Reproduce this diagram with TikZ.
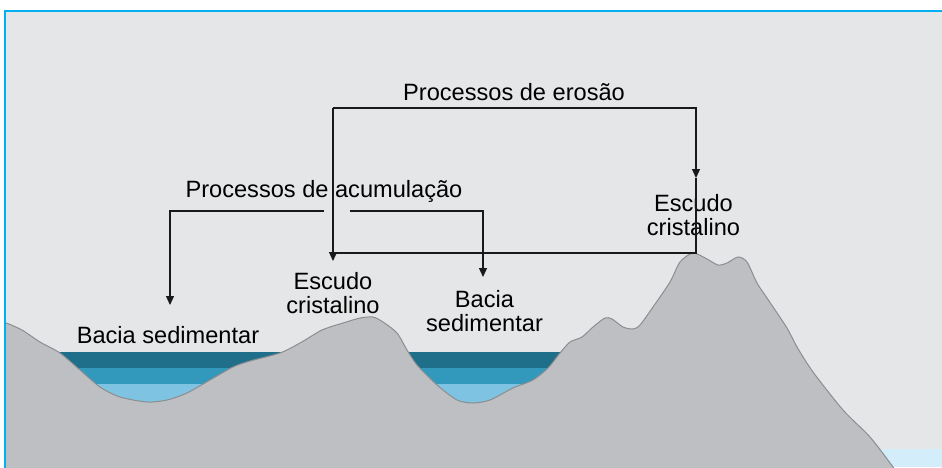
\documentclass[tikz,border=0pt]{standalone}
\usepackage{fontspec}
\setmainfont{Liberation Sans}
\usetikzlibrary{arrows.meta}

\definecolor{frameblue}{HTML}{00B0F0}
\definecolor{skygray}{HTML}{E5E6E8}
\definecolor{rock}{HTML}{BEBFC2}
\definecolor{rockedge}{HTML}{8C8D90}
\definecolor{sedA}{HTML}{1F6F8B}
\definecolor{sedB}{HTML}{3399BC}
\definecolor{sedC}{HTML}{7EC4E2}
\definecolor{sea}{HTML}{D3EEFA}

\begin{document}
\begin{tikzpicture}[x=1pt,y=-1pt,
  lbl/.style={font=\fontsize{23.6}{23.5}\selectfont, inner sep=0pt, align=center, text=black},
  flow/.style={line width=1.3pt, draw=black!90},
  flowarrow/.style={flow, -{Triangle[width=8pt,length=9pt]}}]

\useasboundingbox (0,0) rectangle (942,467);
\fill[white] (0,0) rectangle (942,467);

\begin{scope}
  \clip (5,11) rectangle (942,467);
  \fill[skygray] (5,11) rectangle (942,467);
  % sea at the foot of the right slope
  \fill[sea] (860,449) rectangle (942,467);
  % sediment layers in the two basins
  \fill[sedA] (10,352) rectangle (300,368);
  \fill[sedB] (10,368) rectangle (300,384);
  \fill[sedC] (10,384) rectangle (300,412);
  \fill[sedA] (395,352) rectangle (575,368);
  \fill[sedB] (395,368) rectangle (575,384);
  \fill[sedC] (395,384) rectangle (575,412);
  % relief profile
  \filldraw[fill=rock, draw=rockedge, line width=1pt]
    plot[smooth, tension=0.45] coordinates {
      (-5,322) (6,323) (22,330) (40,342) (60,353) (80,370) (100,387)
      (120,397) (147,402) (167,400) (187,393) (210,380) (233,367)
      (250,361) (280,353) (300,343) (320,331) (330,327) (343,323)
      (360,318) (373,317) (383,322) (397,333) (407,350) (417,365)
      (437,385) (457,400) (473,403) (490,400) (513,388) (533,380)
      (548,368) (560,353) (570,342) (582,337) (593,327) (605,318)
      (612,319) (623,327) (633,329) (640,325) (653,307) (670,282)
      (680,262) (693,253) (707,259) (718,265) (727,263) (738,257)
      (747,262) (757,283) (767,298) (787,328) (797,347) (813,372)
      (843,410) (870,437) (893,467) (900,478)}
    -- (900,490) -- (-5,490) -- cycle;
\end{scope}

% frame edges
\draw[frameblue, line width=1.6pt] (943,11) -- (5,11) -- (5,468);

% labels
\node[lbl, anchor=base] (erosao) at (514,100) {Processos de erosão};
\node[lbl, anchor=base] (acum) at (324,197) {Processos de acumulação};
\node[lbl, anchor=base] (baciaL) at (168,343) {Bacia sedimentar};
\node[lbl, anchor=north] (escM) at (333,272.5) {Escudo\\cristalino};
\node[lbl, anchor=north] (baciaM) at (484.5,290.5) {Bacia\\sedimentar};
\node[lbl, anchor=north] (escR) at (693.5,194.5) {Escudo\\cristalino};

% erosion loop
\coordinate (eroL) at (333,108);
\coordinate (eroR) at (696,108);
\coordinate (eroTipL) at (333,261);
\coordinate (eroTipR) at (696,178);
\coordinate (summit) at (696,253);
\coordinate (eroBase) at (333,253);
\draw[flowarrow] (eroL) -- (eroTipL);
\draw[flowarrow] (eroL) -- (eroR) -- (eroTipR);
\draw[flow] (eroTipR) -- (summit) -- (eroBase);

% accumulation branches
\coordinate (acGapL) at (324,211);
\coordinate (acGapR) at (350,211);
\coordinate (acL) at (170,211);
\coordinate (acR) at (483,211);
\coordinate (acTipL) at (170,305);
\coordinate (acTipR) at (483,277);
\draw[flowarrow] (acGapL) -- (acL) -- (acTipL);
\draw[flowarrow] (acGapR) -- (acR) -- (acTipR);
\end{tikzpicture}
\end{document}
